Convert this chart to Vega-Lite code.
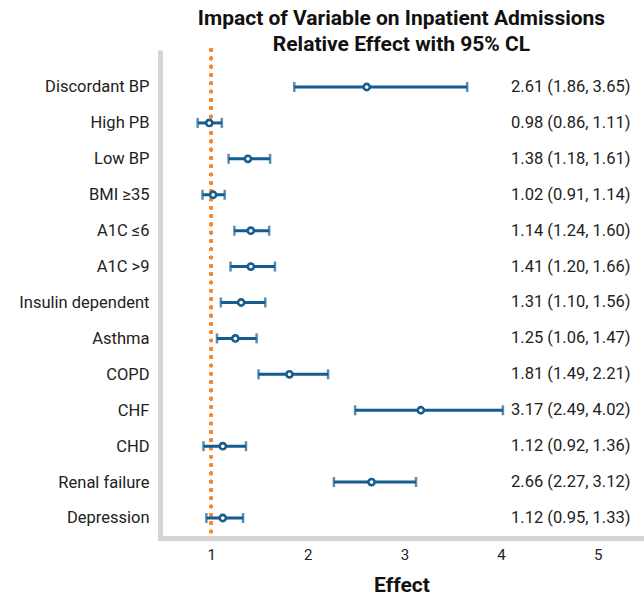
{
  "$schema": "https://vega.github.io/schema/vega-lite/v6.json",
  "width": 483,
  "height": 488,
  "autosize": {"type": "none"},
  "padding": {"left": 160, "top": 50, "right": 1, "bottom": 58},
  "background": "white",
  "title": {
    "text": ["Impact of Variable on Inpatient Admissions", "Relative Effect with 95% CL"],
    "font": "Roboto",
    "fontSize": 21,
    "fontWeight": "bold",
    "color": "#111111",
    "anchor": "middle",
    "lineHeight": 26,
    "offset": -7
  },
  "config": {
    "view": {"stroke": null},
    "font": "Roboto"
  },
  "data": {
    "values": [
      {"row": 0, "name": "Discordant BP", "est": 2.61, "lo": 1.86, "hi": 3.65, "label": "2.61 (1.86, 3.65)"},
      {"row": 1, "name": "High PB", "est": 0.98, "lo": 0.86, "hi": 1.11, "label": "0.98 (0.86, 1.11)"},
      {"row": 2, "name": "Low BP", "est": 1.38, "lo": 1.18, "hi": 1.61, "label": "1.38 (1.18, 1.61)"},
      {"row": 3, "name": "BMI ≥35", "est": 1.02, "lo": 0.91, "hi": 1.14, "label": "1.02 (0.91, 1.14)"},
      {"row": 4, "name": "A1C ≤6", "est": 1.41, "lo": 1.24, "hi": 1.60, "label": "1.14 (1.24, 1.60)"},
      {"row": 5, "name": "A1C >9", "est": 1.41, "lo": 1.20, "hi": 1.66, "label": "1.41 (1.20, 1.66)"},
      {"row": 6, "name": "Insulin dependent", "est": 1.31, "lo": 1.10, "hi": 1.56, "label": "1.31 (1.10, 1.56)"},
      {"row": 7, "name": "Asthma", "est": 1.25, "lo": 1.06, "hi": 1.47, "label": "1.25 (1.06, 1.47)"},
      {"row": 8, "name": "COPD", "est": 1.81, "lo": 1.49, "hi": 2.21, "label": "1.81 (1.49, 2.21)"},
      {"row": 9, "name": "CHF", "est": 3.17, "lo": 2.49, "hi": 4.02, "label": "3.17 (2.49, 4.02)"},
      {"row": 10, "name": "CHD", "est": 1.12, "lo": 0.92, "hi": 1.36, "label": "1.12 (0.92, 1.36)"},
      {"row": 11, "name": "Renal failure", "est": 2.66, "lo": 2.27, "hi": 3.12, "label": "2.66 (2.27, 3.12)"},
      {"row": 12, "name": "Depression", "est": 1.12, "lo": 0.95, "hi": 1.33, "label": "1.12 (0.95, 1.33)"}
    ]
  },
  "encoding": {
    "y": {
      "field": "row",
      "type": "quantitative",
      "scale": {"domain": [-1.03, 12.557], "nice": false, "zero": false, "reverse": true},
      "axis": {
        "title": null,
        "values": [0, 1, 2, 3, 4, 5, 6, 7, 8, 9, 10, 11, 12],
        "labelExpr": "['Discordant BP','High PB','Low BP','BMI ≥35','A1C ≤6','A1C >9','Insulin dependent','Asthma','COPD','CHF','CHD','Renal failure','Depression'][datum.value]",
        "domainColor": "#d4d4d4",
        "domainWidth": 5,
        "ticks": false,
        "grid": false,
        "labelFontSize": 16.5,
        "labelColor": "#222222",
        "labelPadding": 11,
        "labelFont": "Roboto",
        "labelBaseline": "middle"
      }
    }
  },
  "layer": [
    {
      "mark": {"type": "rule", "color": "#f5882e", "strokeWidth": 3.5, "strokeDash": [0.1, 8.2], "strokeCap": "round"},
      "encoding": {
        "x": {"datum": 1, "type": "quantitative"},
        "y": null
      }
    },
    {
      "mark": {"type": "rule", "color": "#155d8f", "strokeWidth": 3},
      "encoding": {
        "x": {
          "field": "lo",
          "type": "quantitative",
          "scale": {"domain": [0.47, 5.47], "nice": false, "zero": false},
          "axis": {
            "values": [1, 2, 3, 4, 5],
            "format": "d",
            "title": "Effect",
            "titleFontSize": 21,
            "titleFontWeight": "bold",
            "titleColor": "#111111",
            "titlePadding": 12,
            "domainColor": "#d4d4d4",
            "domainWidth": 5,
            "domainCap": "square",
            "ticks": false,
            "grid": false,
            "labelFontSize": 15,
            "labelColor": "#222222",
            "labelPadding": 9,
            "labelFont": "Roboto",
            "titleFont": "Roboto"
          }
        },
        "x2": {"field": "hi"}
      }
    },
    {
      "mark": {"type": "tick", "color": "#155d8f", "orient": "vertical", "size": 10, "thickness": 2.5},
      "encoding": {"x": {"field": "lo", "type": "quantitative"}}
    },
    {
      "mark": {"type": "tick", "color": "#155d8f", "orient": "vertical", "size": 10, "thickness": 2.5},
      "encoding": {"x": {"field": "hi", "type": "quantitative"}}
    },
    {
      "mark": {"type": "point", "shape": "circle", "filled": false, "fill": "white", "fillOpacity": 1, "stroke": "#155d8f", "strokeWidth": 2.6, "size": 38, "opacity": 1},
      "encoding": {"x": {"field": "est", "type": "quantitative"}}
    },
    {
      "mark": {"type": "text", "align": "right", "baseline": "middle", "fontSize": 16.5, "color": "#222222", "font": "Roboto"},
      "encoding": {
        "x": {"datum": 5.34, "type": "quantitative"},
        "text": {"field": "label"}
      }
    }
  ]
}
